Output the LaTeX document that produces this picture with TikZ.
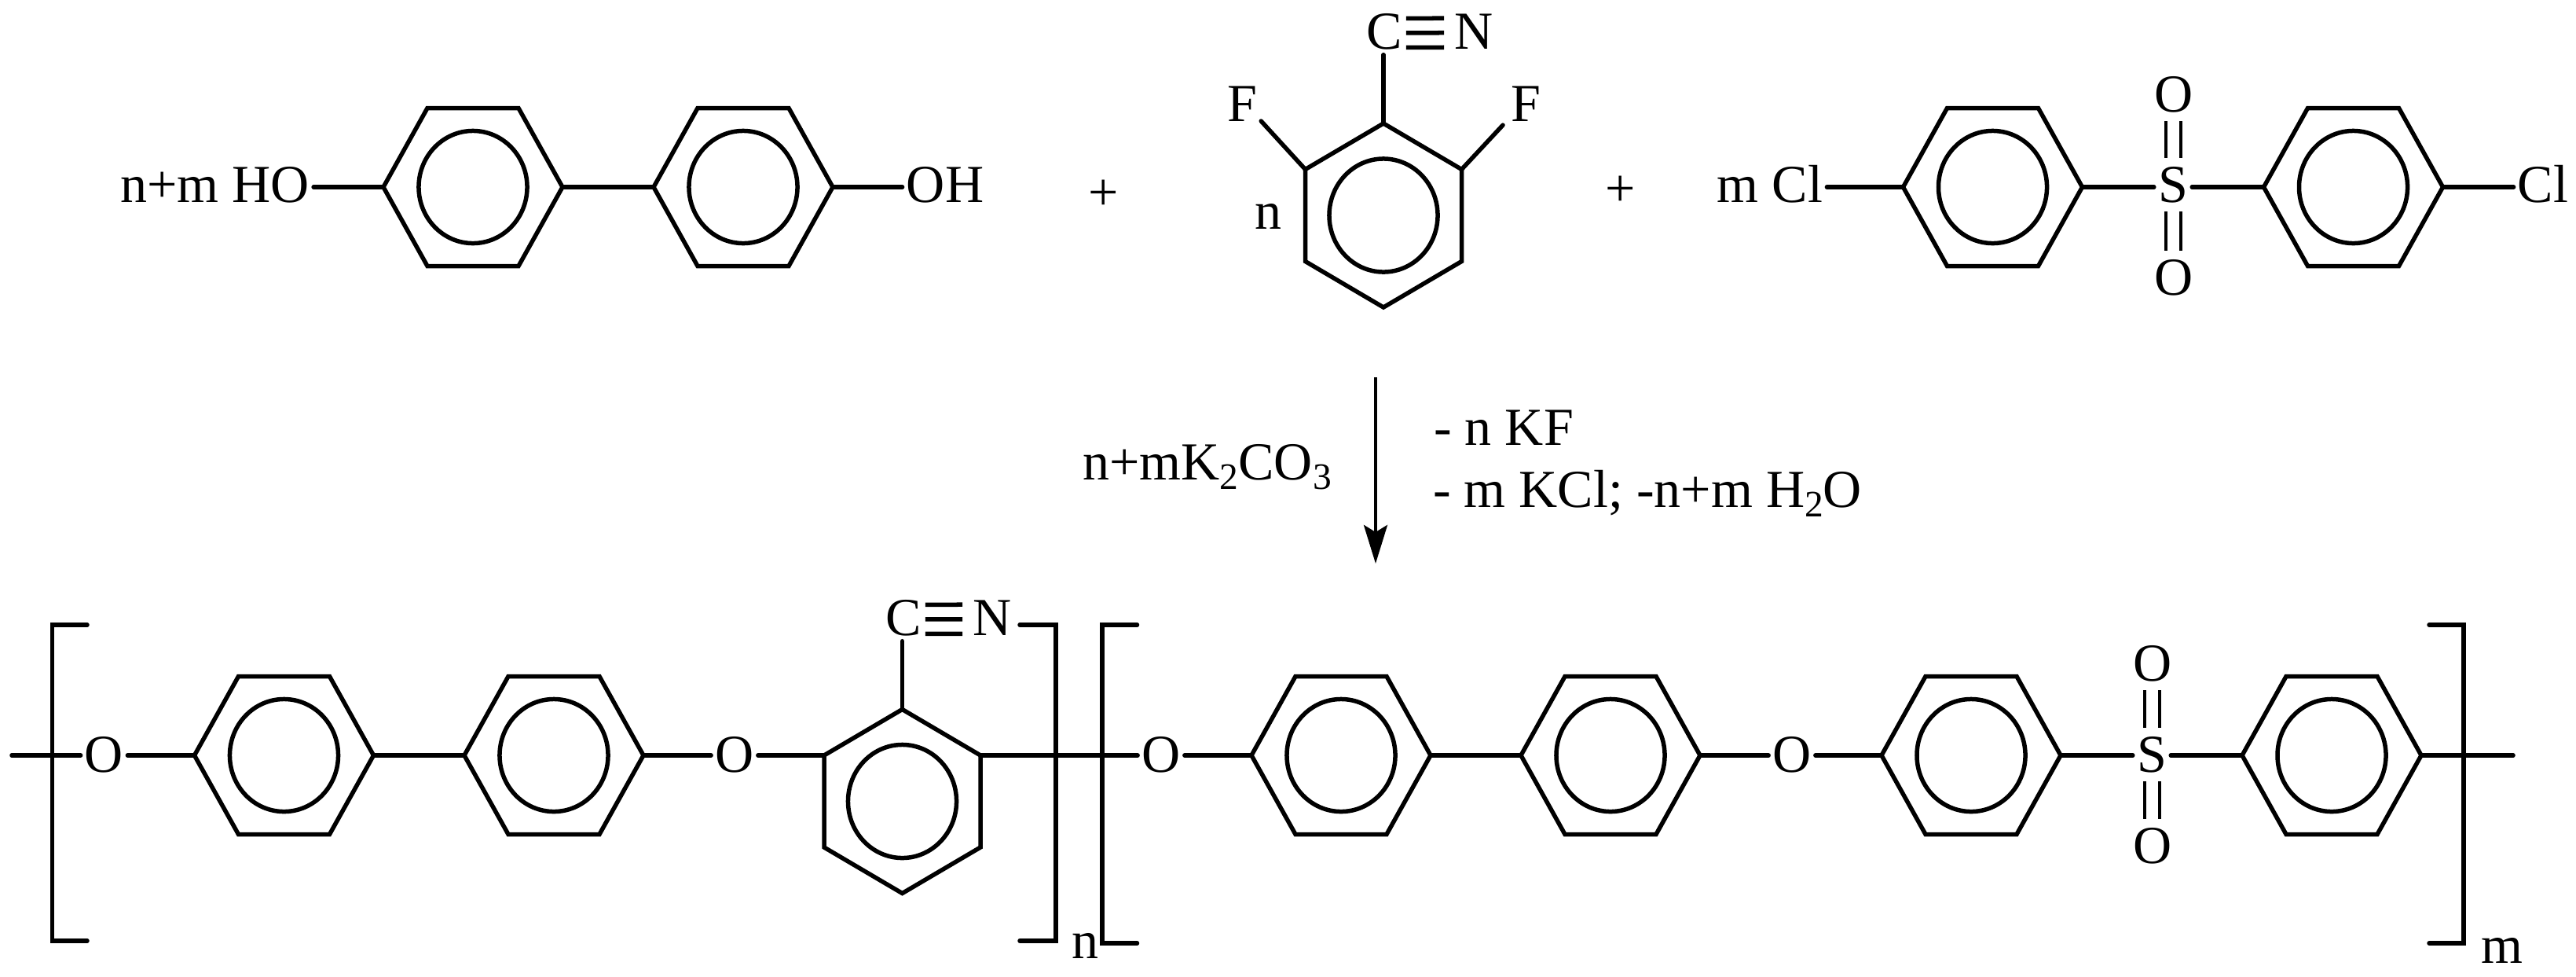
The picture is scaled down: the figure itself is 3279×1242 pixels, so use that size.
\documentclass[tikz,border=0pt]{standalone}
\usepackage{fontspec}
\setmainfont{Liberation Serif}
\usepackage{tikz}
\usetikzlibrary{calc,arrows.meta}
\newcommand{\lowsub}[1]{\raisebox{-0.18em}{\fontsize{13.5pt}{14pt}\selectfont #1}}
\tikzset{
  bond/.style={draw=black, line width=0.055cm, line cap=round},
  ringline/.style={draw=black, line width=0.055cm},
  dblbond/.style={draw=black, line width=0.04cm, double, double distance=0.15cm, shorten <=3.2pt, shorten >=3.2pt},
  atom/.style={anchor=base, inner xsep=1.5pt, inner ysep=0pt, outer sep=0pt, text=black, font=\fontsize{19.35pt}{22pt}\selectfont},
  flatring/.pic={
    \coordinate (-l) at (-114,0);
    \coordinate (-r) at (114,0);
    \draw[ringline] (-l) -- (-58,-100.5) -- (58,-100.5) -- (-r) -- (58,100.5) -- (-58,100.5) -- cycle;
    \draw[ringline] (0,0) ellipse (0.69cm and 0.715cm);
  },
  tallring/.pic={
    \coordinate (-t) at (0,-117);
    \coordinate (-ul) at (-99.5,-58.5);
    \coordinate (-ur) at (99.5,-58.5);
    \draw[ringline] (-t) -- (-ur) -- (99.5,58.5) -- (0,117) -- (-99.5,58.5) -- (-ul) -- cycle;
    \draw[ringline] (0,0) ellipse (0.69cm and 0.72cm);
  },
}

\begin{document}
\begin{tikzpicture}[x=0.01cm,y=-0.01cm]
\useasboundingbox (0,0) rectangle (3279,1242);

% biphenol
\pic (ra) at (602,238) {flatring};
\pic (rb) at (946,238) {flatring};
\node[atom] (ho) at (273.5,257) {n+m HO};
\node[atom] (oh) at (1203,257) {OH};
\draw[bond] (ho.east |- ra-l) -- (ra-l);
\draw[bond] (ra-r) -- (rb-l);
\draw[bond] (rb-r) -- (oh.west |- rb-r);

\node[atom] (plusa) at (1405,267) {+};

% difluorobenzonitrile
\pic (rc) at (1761,274) {tallring};
\node[atom] (ctop) at (1762,62) {C};
\node[atom] (ntop) at (1876,62) {N};
\node[atom] (fl) at (1581,154) {F};
\node[atom] (fr) at (1942,154) {F};
\node[atom] (ncount) at (1614,291) {n};
\draw[bond, shorten >=2pt] (rc-t) -- (rc-t |- ctop.south);
\foreach \dy in {0.165,-0.02,-0.205} {
  \draw[bond, line cap=butt, shorten >=2.3pt] ([yshift=\dy cm]ctop.east) -- ([yshift=\dy cm]ntop.west);
}
\draw[bond] (rc-ul) -- (fl.south east);
\draw[bond, shorten >=2pt] (rc-ur) -- (fr.south west);

\node[atom] (plusb) at (2063,262) {+};

% dichlorodiphenyl sulfone
\pic (rd) at (2536.5,238) {flatring};
\pic (re) at (2995.5,238) {flatring};
\node[atom] (cla) at (2253,257) {m Cl};
\node[atom] (clb) at (3237,257) {Cl};
\node[atom] (stop) at (2766,257) {S};
\node[atom] (ou) at (2767,142) {O};
\node[atom] (od) at (2767,375) {O};
\draw[bond] (cla.east |- rd-l) -- (rd-l);
\draw[bond] (rd-r) -- (stop.west |- rd-r);
\draw[bond] (stop.east |- re-l) -- (re-l);
\draw[bond] (re-r) -- (clb.west |- re-r);
\draw[dblbond] (stop.north) -- (stop.north |- ou.south);
\draw[dblbond] (stop.south) -- (stop.south |- od.north);

% reaction arrow
\coordinate (arrtop) at (1751,480);
\coordinate (arrbot) at (1751,717);
\draw[draw=black, line width=0.04cm, -{Stealth[length=0.49cm,width=0.30cm,inset=0.09cm]}] (arrtop) -- (arrbot);
\node[atom] (base) at (1536.5,610) {n+mK\lowsub{2}CO\lowsub{3}};
\node[atom] (kf) at (1914,566) {- n KF};
\node[atom] (kcl) at (2097,645) {- m KCl; -n+m H\lowsub{2}O};

% polymer chain
\coordinate (chainl) at (15,961);
\coordinate (chainr) at (3199,961);
\pic (pa) at (361.5,961) {flatring};
\pic (pb) at (705,961) {flatring};
\pic (pc) at (1148.5,1019.5) {tallring};
\pic (pd) at (1707,961) {flatring};
\pic (pe) at (2050,961) {flatring};
\pic (pf) at (2509,961) {flatring};
\pic (pg) at (2968,961) {flatring};
\node[atom] (oa) at (132.5,982) {O};
\node[atom] (ob) at (935,982) {O};
\node[atom] (oc) at (1478,982) {O};
\node[atom] (oe) at (2281,982) {O};
\node[atom] (sbot) at (2739,982) {S};
\node[atom] (ou2) at (2740,866) {O};
\node[atom] (od2) at (2740,1098) {O};
\node[atom] (cbot) at (1150,808) {C};
\node[atom] (nbot) at (1263,808) {N};
\draw[bond] (chainl) -- (oa.west |- chainl);
\draw[bond] (oa.east |- pa-l) -- (pa-l);
\draw[bond] (pa-r) -- (pb-l);
\draw[bond] (pb-r) -- (ob.west |- pb-r);
\draw[bond] (ob.east |- pc-ul) -- (pc-ul);
\draw[bond] (pc-ur) -- (oc.west |- pc-ur);
\draw[bond] (oc.east |- pd-l) -- (pd-l);
\draw[bond] (pd-r) -- (pe-l);
\draw[bond] (pe-r) -- (oe.west |- pe-r);
\draw[bond] (oe.east |- pf-l) -- (pf-l);
\draw[bond] (pf-r) -- (sbot.west |- pf-r);
\draw[bond] (sbot.east |- pg-l) -- (pg-l);
\draw[bond] (pg-r) -- (chainr);
\draw[dblbond] (sbot.north) -- (sbot.north |- ou2.south);
\draw[dblbond] (sbot.south) -- (sbot.south |- od2.north);
\draw[bond, shorten >=2pt] (pc-t) -- (pc-t |- cbot.south);
\foreach \dy in {0.165,-0.02,-0.205} {
  \draw[bond, line cap=butt, shorten >=2.3pt] ([yshift=\dy cm]cbot.east) -- ([yshift=\dy cm]nbot.west);
}

% brackets
\draw[bond] (111,795) -- (66.5,795) -- (66.5,1197) -- (111,1197);
\draw[bond] (1298,795) -- (1344,795) -- (1344,1197) -- (1298,1197);
\draw[bond] (1447.5,795) -- (1403,795) -- (1403,1200) -- (1447.5,1200);
\draw[bond] (3092,795) -- (3136,795) -- (3136,1200) -- (3092,1200);
\node[atom] (nsub) at (1381,1219) {n};
\node[atom] (msub) at (3185,1225) {m};
\end{tikzpicture}
\end{document}
